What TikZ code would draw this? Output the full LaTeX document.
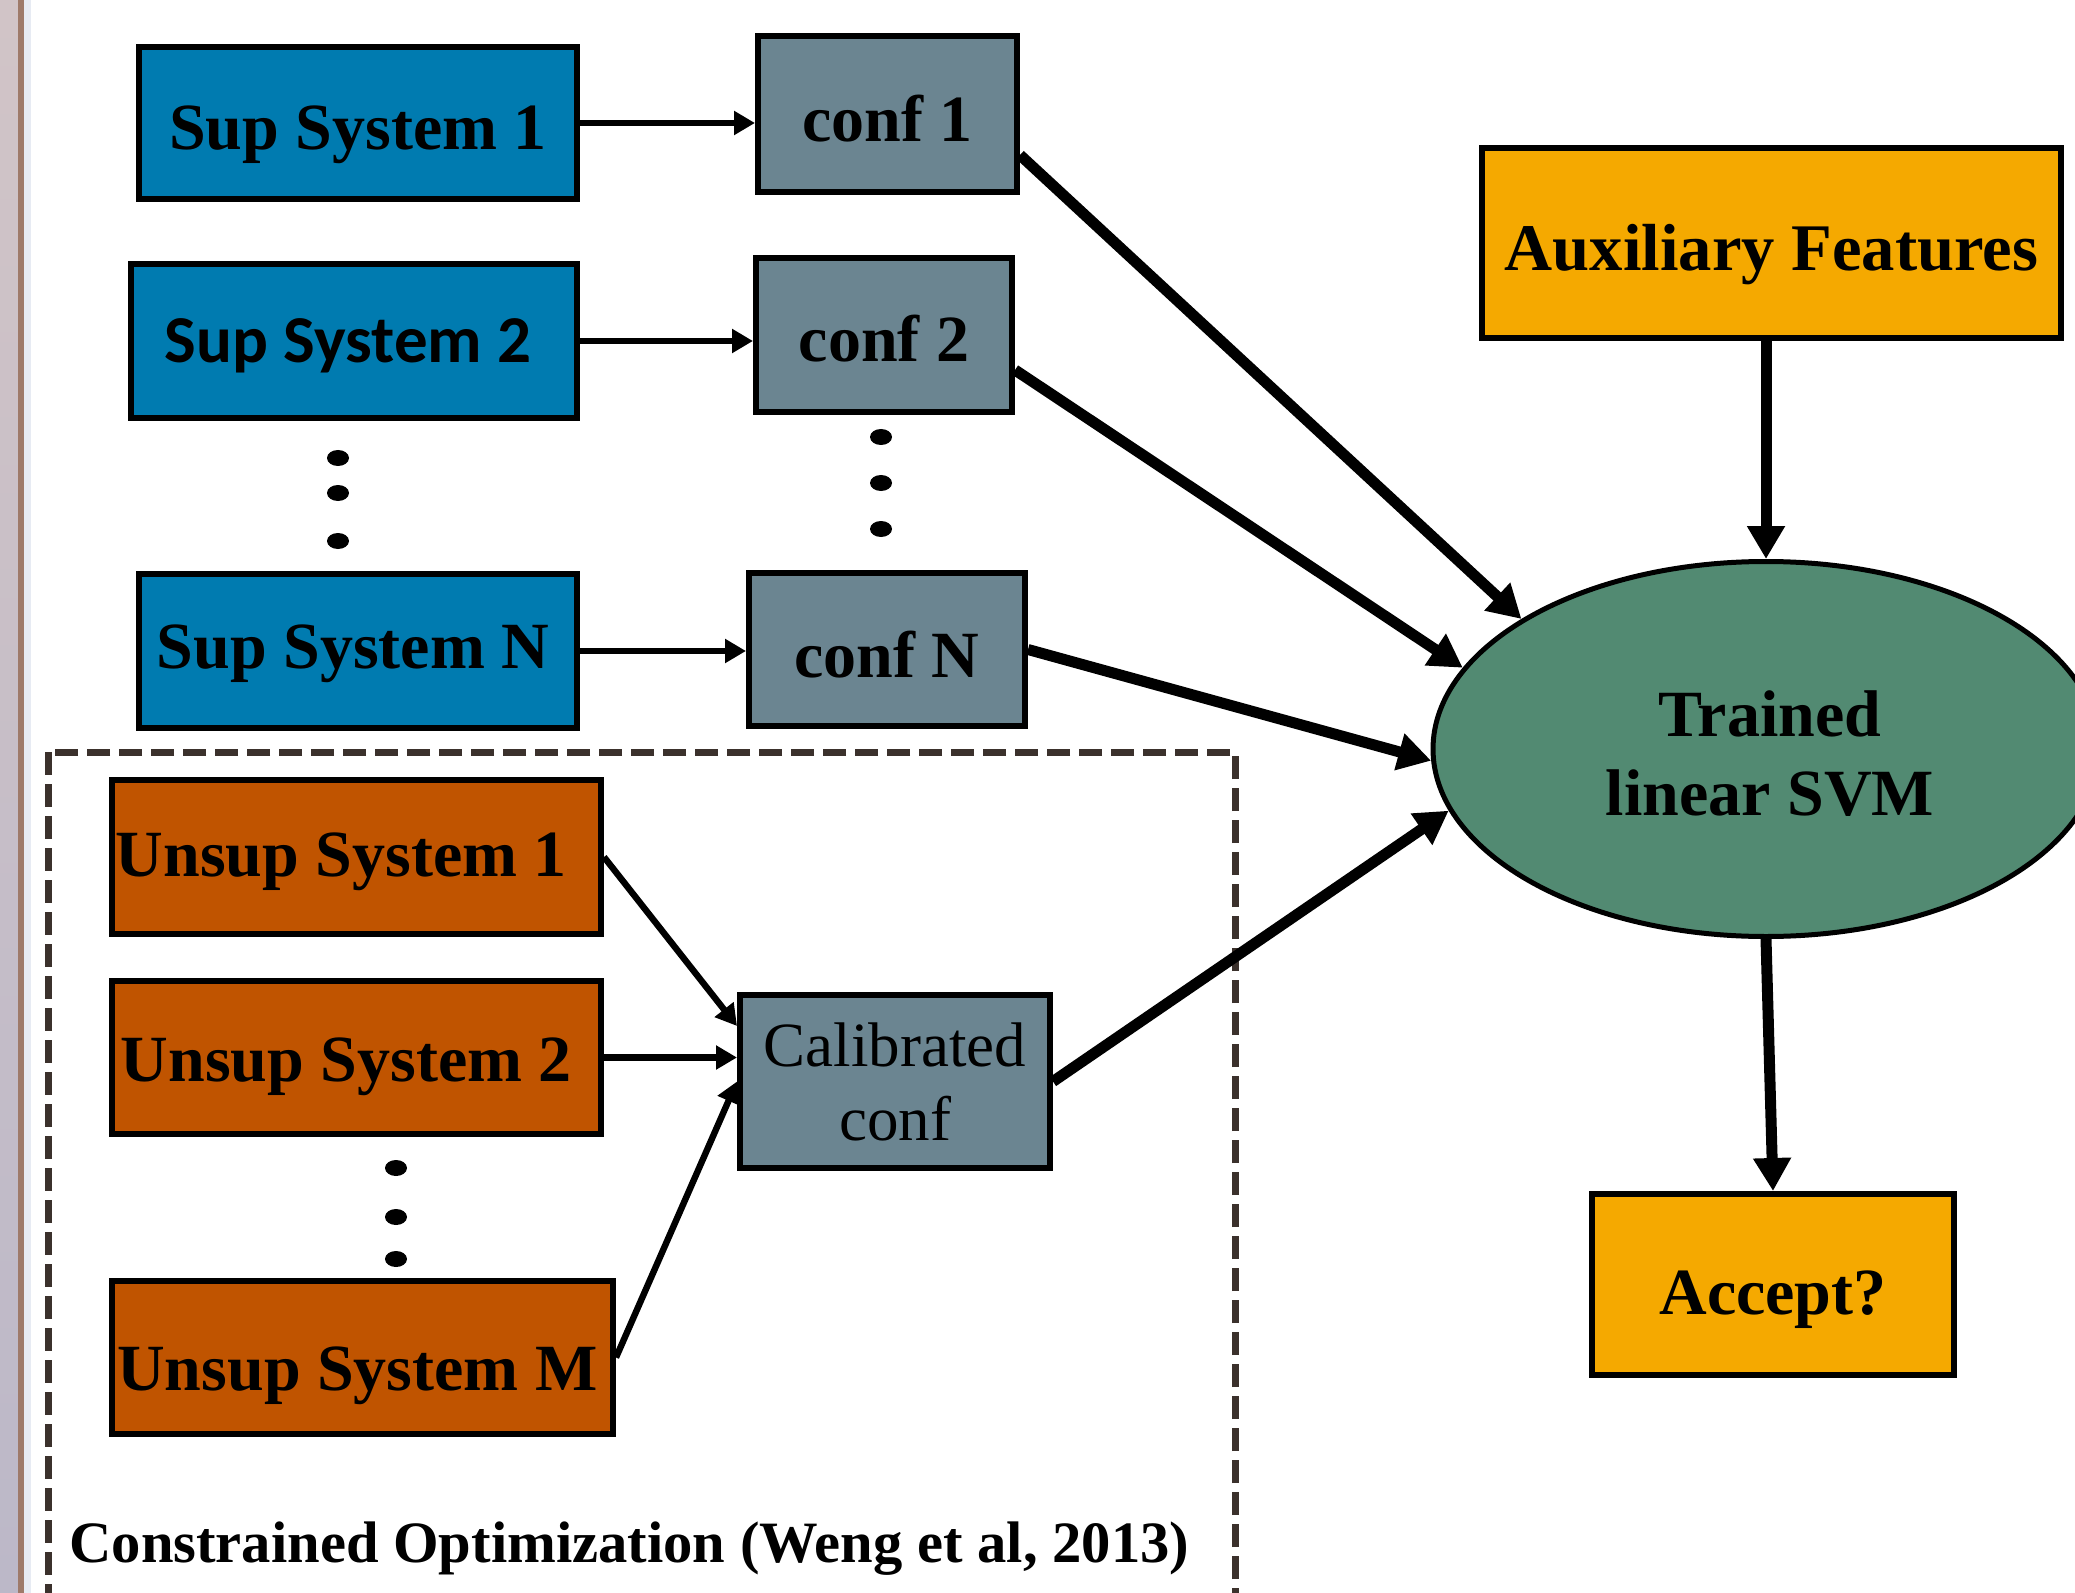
\documentclass[tikz,border=0pt]{standalone}
\usepackage{fontspec}
\setmainfont{Liberation Serif}
\newfontfamily\carlitofont{Carlito}
\usetikzlibrary{arrows.meta,shapes.geometric,calc}
\definecolor{supblue}{HTML}{007BB0}
\definecolor{confgray}{HTML}{6B8591}
\definecolor{unsuporange}{HTML}{C05400}
\definecolor{auxyellow}{HTML}{F5A900}
\definecolor{svmgreen}{HTML}{528A72}
\definecolor{dashcol}{HTML}{3B312C}
\definecolor{stripetop}{HTML}{D1C4C7}
\definecolor{stripebot}{HTML}{BCB8C8}
\definecolor{stripebrown}{HTML}{9E7A6A}
\definecolor{stripelight}{HTML}{E7EBF3}
\begin{document}
\begin{tikzpicture}[x=0.5pt,y=-0.5pt,
  box/.style={draw=black, line width=3pt, inner sep=0pt, text depth=0pt,
    font=\fontsize{33}{39.5}\selectfont\bfseries},
  thinarrow/.style={line width=3.2pt, -{Triangle[length=10.5pt,width=11.5pt]}},
  thickarrow/.style={line width=5.5pt, -{Triangle[length=16.5pt,width=18pt]}},
  dotmark/.style={fill=black}
]
\useasboundingbox (0,0) rectangle (2075,1593);
\fill[white] (0,0) rectangle (2075,1593);
% left window stripe
\fill[top color=stripetop, bottom color=stripebot] (0,0) rectangle (18,1593);
\fill[stripebrown] (18,0) rectangle (24,1593);
\fill[stripelight] (24,0) rectangle (31,1593);

% dashed group
\draw[dashcol, line width=3.5pt, dash pattern=on 11.5pt off 4.5pt] (48,752) rectangle (1235,1596);

% supervised systems
\node[box, fill=supblue, minimum width=219pt, minimum height=76pt, text height=27pt] (sup1) at (358,123) {Sup System 1};
\node[box, fill=supblue, minimum width=223pt, minimum height=77pt, text height=22pt,
  font=\fontsize{33.5}{40}\selectfont\carlitofont\bfseries] (sup2) at (354,341) {Sup System 2\hspace*{6pt}};
\node[box, fill=supblue, minimum width=219pt, minimum height=77pt, text height=17pt] (supN) at (358,651) {Sup System N\hspace*{5pt}};

% confidences
\node[box, fill=confgray, minimum width=129.5pt, minimum height=78pt, text height=28pt] (conf1) at (887.5,114) {conf 1};
\node[box, fill=confgray, minimum width=128pt, minimum height=77pt, text height=27pt] (conf2) at (884,335) {conf 2};
\node[box, fill=confgray, minimum width=138pt, minimum height=76.5pt, text height=28pt] (confN) at (887,649.5) {conf N};

% right side
\node[box, fill=auxyellow, minimum width=289.5pt, minimum height=95pt, text height=28pt,
  font=\fontsize{33.3}{39.5}\selectfont\bfseries] (aux) at (1771.5,243) {Auxiliary Features};
\node[draw=black, ellipse, line width=2.5pt, fill=svmgreen, minimum width=333pt, minimum height=187.5pt,
  inner sep=0pt, align=center, font=\fontsize{33}{39.5}\selectfont\bfseries] (svm) at (1766,749) {\rule{0pt}{27.5pt}\hspace*{4pt}Trained\\\hspace*{4pt}linear SVM};
\node[box, fill=auxyellow, minimum width=181pt, minimum height=90.5pt, text height=30pt] (accept) at (1773,1284.5) {Accept?};

% unsupervised systems
\node[box, fill=unsuporange, minimum width=244.5pt, minimum height=77pt, text height=19pt] (unsup1) at (356.5,857) {Unsup System 1\hspace*{15pt}};
\node[box, fill=unsuporange, minimum width=244.5pt, minimum height=76.5pt, text height=23.5pt] (unsup2) at (356.5,1057.5) {Unsup System 2\hspace*{10pt}};
\node[box, fill=unsuporange, minimum width=250.5pt, minimum height=76.5pt, text height=33pt] (unsupM) at (362.5,1357.5) {Unsup System M\hspace*{5pt}};
\node[box, fill=confgray, minimum width=155pt, minimum height=86.5pt, align=center,
  font=\fontsize{31.5}{37}\selectfont] (cal) at (895,1081.5) {Calibrated\\conf};

\node[anchor=base west, inner sep=0pt, font=\fontsize{29.3}{34}\selectfont\bfseries] (caption) at (69,1562) {Constrained Optimization (Weng et al, 2013)};

% dots
\foreach \yy in {458,493,541} \fill[dotmark] (338,\yy) ellipse [x radius=5.5pt, y radius=4pt];
\foreach \yy in {437,483,529} \fill[dotmark] (881,\yy) ellipse [x radius=5.5pt, y radius=4pt];
\foreach \yy in {1168,1217,1259} \fill[dotmark] (396,\yy) ellipse [x radius=5.5pt, y radius=4pt];

% connectors
\draw[thinarrow] (sup1.east) -- (sup1.east -| conf1.west);
\draw[thinarrow] (sup2.east) -- (sup2.east -| conf2.west);
\draw[thinarrow] (supN.east) -- (supN.east -| confN.west);
\draw[thickarrow] ([yshift=-20.5pt]conf1.east) -- (svm.152);
\draw[thickarrow] ([yshift=-17.5pt]conf2.east) -- (svm.165);
\draw[thickarrow] (confN.east) -- (svm.182);
\draw[thickarrow] (cal.east) -- (svm.191);
\draw[thickarrow] (aux.south -| svm.north) -- (svm.north);
\draw[thickarrow] (svm.south) -- (accept.north);
\draw[thinarrow] (unsup1.east) -- ([yshift=27.75pt]cal.west);
\draw[thinarrow] (unsup2.east) -- (unsup2.east -| cal.west);
\draw[thinarrow] (unsupM.east) -- (cal.west);
\end{tikzpicture}
\end{document}
